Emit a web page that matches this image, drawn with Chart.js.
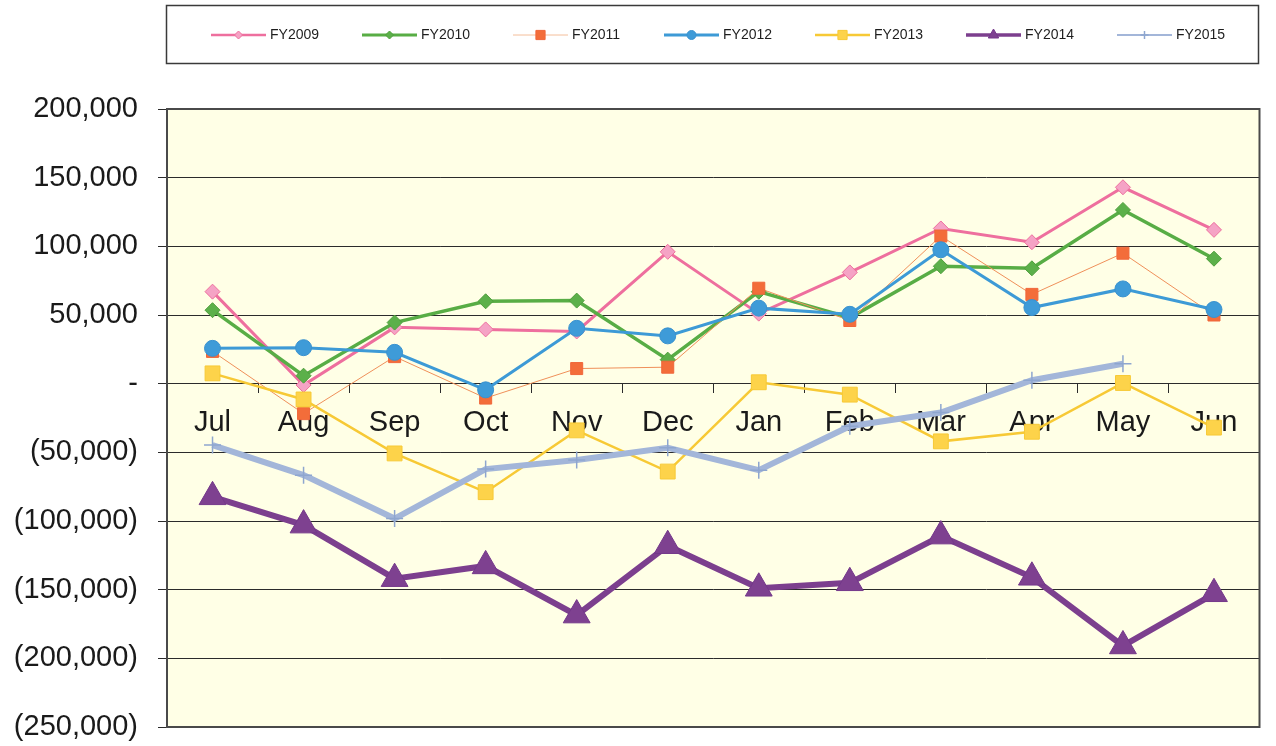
<!DOCTYPE html>
<html>
<head>
<meta charset="utf-8">
<script src="https://cdn.jsdelivr.net/npm/chart.js@4.4.1/dist/chart.umd.min.js"></script>
<style>
  html, body { margin: 0; padding: 0; background: #fff; }
  #wrap { width: 1276px; height: 746px; }
</style>
</head>
<body>
<div id="wrap"><canvas id="monthChart"></canvas></div>
<script>
const months = ['Jul', 'Aug', 'Sep', 'Oct', 'Nov', 'Dec', 'Jan', 'Feb', 'Mar', 'Apr', 'May', 'Jun'];
const yTickValues = [200000, 150000, 100000, 50000, 0, -50000, -100000, -150000, -200000, -250000];

const fy2009 = [67000, -1000, 41000, 39500, 38000, 96000, 51000, 81000, 113000, 103000, 143000, 112000];
const fy2010 = [53500, 5800, 44500, 60000, 60500, 17500, 67000, 48000, 85500, 84000, 126500, 91000];
const fy2011 = [23500, -21800, 19700, -10500, 11000, 12000, 69500, 46000, 107500, 65000, 95000, 50000];
const fy2012 = [25700, 26200, 22800, -4500, 40300, 34800, 55000, 50500, 97500, 55400, 69000, 54000];
const fy2013 = [7500, -11500, -50800, -79000, -34000, -64000, 1000, -8000, -42000, -35000, 500, -32000];
const fy2014 = [-82400, -103000, -142000, -132700, -168500, -118000, -149000, -145000, -111000, -141000, -191000, -153000];
const fy2015 = [-44700, -66600, -98200, -62200, -55600, -46700, -63000, -31000, -21000, 2500, 14500, null];

Chart.defaults.font.family = '"Liberation Sans", Arial, sans-serif';

function fmtMoney(v) {
  if (v === 0) return '-';
  const s = Math.abs(v).toLocaleString('en-US');
  return v < 0 ? '(' + s + ')' : s;
}

// yellow plot background + dark frame
const plotFrame = {
  id: 'plotFrame',
  beforeDraw(chart) {
    const { ctx, chartArea: a } = chart;
    ctx.save();
    ctx.fillStyle = '#FFFFE6';
    ctx.fillRect(a.left, a.top, a.width, a.height);
    ctx.restore();
  },
  beforeDatasetsDraw(chart) {
    const { ctx, chartArea: a } = chart;
    ctx.save();
    ctx.strokeStyle = '#4a4a4a';
    ctx.lineWidth = 2;
    ctx.strokeRect(a.left, a.top, a.width, a.height);
    ctx.restore();
  }
};

// Excel style boxed legend: line + marker + text
const boxLegend = {
  id: 'boxLegend',
  afterDraw(chart) {
    const ctx = chart.ctx;
    ctx.save();
    ctx.strokeStyle = '#3a3a3a';
    ctx.lineWidth = 1.5;
    ctx.strokeRect(166.5, 5.5, 1092, 58);
    ctx.font = '14px "Liberation Sans", Arial, sans-serif';
    ctx.textBaseline = 'middle';
    chart.data.datasets.forEach((ds, i) => {
      const x = 211 + i * 151, y = 35;
      ctx.strokeStyle = ds.legendLineColor || ds.borderColor;
      ctx.lineWidth = ds.legendLine;
      ctx.beginPath();
      ctx.moveTo(x, y);
      ctx.lineTo(x + 55, y);
      ctx.stroke();
      ctx.fillStyle = ds.pointBackgroundColor;
      ctx.strokeStyle = ds.pointBorderColor;
      ctx.lineWidth = ds.pointBorderWidth;
      Chart.helpers.drawPoint(ctx, {
        pointStyle: ds.pointStyle, radius: ds.legendRadius,
        borderWidth: ds.pointBorderWidth, rotation: 0
      }, x + 27.5, y);
      ctx.fillStyle = '#1e1e1e';
      ctx.fillText(ds.label, x + 59, y);
    });
    ctx.restore();
  }
};

const ctx = document.getElementById('monthChart');
new Chart(ctx, {
  type: 'line',
  data: {
    labels: months,
    datasets: [
      {
        label: 'FY2009', data: fy2009, order: 6,
        borderColor: '#EE6F9E', borderWidth: 3,
        pointStyle: 'rectRot', pointRadius: 7.5,
        pointBackgroundColor: '#F5A3C5', pointBorderColor: '#EE6F9E', pointBorderWidth: 1,
        legendLine: 2.5, legendRadius: 4
      },
      {
        label: 'FY2010', data: fy2010, order: 5,
        borderColor: '#58AD45', borderWidth: 3.5,
        pointStyle: 'rectRot', pointRadius: 7.5,
        pointBackgroundColor: '#5CB04A', pointBorderColor: '#4E9E3C', pointBorderWidth: 1,
        legendLine: 3, legendRadius: 4
      },
      {
        label: 'FY2011', data: fy2011, order: 4,
        borderColor: '#F0905A', borderWidth: 1,
        pointStyle: 'rect', pointRadius: 8.5,
        pointBackgroundColor: '#F36D3A', pointBorderColor: '#F0663A', pointBorderWidth: 1,
        legendLine: 1, legendLineColor: '#F4BE9A', legendRadius: 6.5
      },
      {
        label: 'FY2012', data: fy2012, order: 3,
        borderColor: '#3D9AD6', borderWidth: 3,
        pointStyle: 'circle', pointRadius: 8,
        pointBackgroundColor: '#3E9BD8', pointBorderColor: '#3A92CF', pointBorderWidth: 1,
        legendLine: 3, legendRadius: 4.5
      },
      {
        label: 'FY2013', data: fy2013, order: 2,
        borderColor: '#F7C935', borderWidth: 2.5,
        pointStyle: 'rect', pointRadius: 10.5,
        pointBackgroundColor: '#FDD34A', pointBorderColor: '#F7C935', pointBorderWidth: 1,
        legendLine: 2.5, legendRadius: 6.5
      },
      {
        label: 'FY2014', data: fy2014, order: 1,
        borderColor: '#7C3F8E', borderWidth: 6,
        pointStyle: 'triangle', pointRadius: 15.5,
        pointBackgroundColor: '#7E4190', pointBorderColor: '#74388A', pointBorderWidth: 1,
        legendLine: 3.5, legendRadius: 6
      },
      {
        label: 'FY2015', data: fy2015, order: 0,
        borderColor: '#A3B6D9', borderWidth: 6,
        pointStyle: 'cross', pointRadius: 8.5,
        pointBackgroundColor: '#8EA6CF', pointBorderColor: '#8EA6CF', pointBorderWidth: 1.5,
        legendLine: 2, legendRadius: 4
      }
    ]
  },
  options: {
    responsive: true,
    maintainAspectRatio: false,
    animation: false,
    events: [],
    layout: { padding: { top: 109, right: 4, bottom: 19, left: 0 } },
    plugins: {
      legend: { display: false },
      tooltip: { enabled: false }
    },
    scales: {
      x: {
        position: { y: 0 },
        offset: true,
        grid: { drawOnChartArea: false, drawTicks: true, tickLength: 9, color: '#2b2b2b', offset: true },
        border: { display: true, color: '#2b2b2b', width: 1 },
        ticks: { padding: 13, color: '#1a1a1a', font: { size: 29 }, maxRotation: 0, autoSkip: false }
      },
      y: {
        min: -250000,
        max: 200000,
        afterBuildTicks: s => { s.ticks = yTickValues.map(v => ({ value: v })); },
        afterFit: s => { s.width = 167; s.paddingTop = 0; s.paddingBottom = 0; },
        grid: { color: '#2b2b2b', lineWidth: 1, tickLength: 9 },
        border: { display: true, color: '#4a4a4a', width: 2 },
        ticks: { padding: 20, color: '#1a1a1a', font: { size: 29 }, callback: v => fmtMoney(v) }
      }
    }
  },
  plugins: [plotFrame, boxLegend]
});
</script>
</body>
</html>
